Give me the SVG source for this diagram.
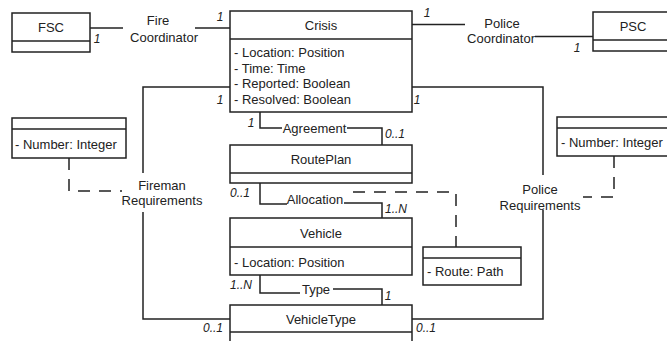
<svg xmlns="http://www.w3.org/2000/svg" width="667" height="341" viewBox="0 0 667 341">
<style>
.box{fill:#fff;stroke:#222;stroke-width:1.5}
.ln{fill:none;stroke:#222;stroke-width:1.5}
.dash{fill:none;stroke:#222;stroke-width:1.5;stroke-dasharray:12,9}
text{font-family:"Liberation Sans",Arial,sans-serif;font-size:13px;fill:#222}
.t{text-anchor:middle}
.m{font-size:12px;font-style:italic}
.mc{font-size:12px;font-style:italic;text-anchor:middle}
.me{font-size:12px;font-style:italic;text-anchor:end}
</style>
<rect width="667" height="341" fill="#fff"/>
<g id="connectors">
<polyline class="ln" points="90,28 123,28"/>
<polyline class="ln" points="195,28 230,28"/>
<polyline class="ln" points="412,24.5 465,24.5"/>
<polyline class="ln" points="535,36.5 593,36.5"/>
<polyline class="ln" points="230,87 143,87 143,173"/>
<polyline class="ln" points="143,212 143,319 230,319"/>
<polyline class="ln" points="412,87 543,87 543,175"/>
<polyline class="ln" points="543,210 543,319 412,319"/>
<polyline class="ln" points="260,112 260,128 282,128"/>
<polyline class="ln" points="347,128 382,128 382,145"/>
<polyline class="ln" points="260,183 260,204 287,204"/>
<polyline class="ln" points="344,203 382,203 382,218"/>
<polyline class="ln" points="260,275 260,293 300,293"/>
<polyline class="ln" points="333,289 382,289 382,305"/>
<path class="dash" d="M69,158 V191 H122"/>
<path class="dash" d="M614,156 V197 H583"/>
<path class="dash" d="M353,192 H456 V247"/>
<text class="t" x="158" y="24.5">Fire</text>
<text class="t" x="164" y="41.5">Coordinator</text>
<text class="t" x="502" y="27.5">Police</text>
<text class="t" x="501" y="42.5">Coordinator</text>
<text class="t" x="162" y="189.5">Fireman</text>
<text class="t" x="162" y="204.5">Requirements</text>
<text class="t" x="540" y="193.5">Police</text>
<text class="t" x="540" y="209.5">Requirements</text>
<text class="t" x="314.5" y="132.5">Agreement</text>
<text class="t" x="315" y="203.5">Allocation</text>
<text class="t" x="316" y="293.5">Type</text>
<text class="mc" x="97" y="43">1</text>
<text class="mc" x="220" y="21">1</text>
<text class="mc" x="427" y="17">1</text>
<text class="mc" x="577" y="52">1</text>
<text class="mc" x="220" y="104">1</text>
<text class="mc" x="417" y="104">1</text>
<text class="mc" x="251" y="127">1</text>
<text class="m" x="385" y="138">0..1</text>
<text class="m" x="230" y="197">0..1</text>
<text class="m" x="385" y="213">1..N</text>
<text class="m" x="230" y="289">1..N</text>
<text class="mc" x="388" y="300">1</text>
<text class="me" x="223" y="332">0..1</text>
<text class="m" x="416" y="332">0..1</text>
</g>
<g id="fsc">
<rect class="box" x="12" y="13" width="78" height="39"/>
<line class="ln" x1="12" y1="41" x2="90" y2="41"/>
<text class="t" x="51" y="31.5">FSC</text>
</g>
<g id="psc">
<rect class="box" x="593" y="12" width="80" height="39"/>
<line class="ln" x1="593" y1="40" x2="673" y2="40"/>
<text class="t" x="633" y="30.5">PSC</text>
</g>
<g id="crisis">
<rect class="box" x="230" y="11" width="182" height="101"/>
<line class="ln" x1="230" y1="39" x2="412" y2="39"/>
<text class="t" x="321" y="30">Crisis</text>
<text x="234" y="57">- Location: Position</text>
<text x="234" y="72.5">- Time: Time</text>
<text x="234" y="88">- Reported: Boolean</text>
<text x="234" y="103.5">- Resolved: Boolean</text>
</g>
<g id="fireman-req">
<rect class="box" x="12" y="118" width="114" height="40"/>
<line class="ln" x1="12" y1="129" x2="126" y2="129"/>
<text x="15" y="148.5">- Number: Integer</text>
</g>
<g id="police-req">
<rect class="box" x="557" y="117" width="115" height="39"/>
<line class="ln" x1="557" y1="128" x2="672" y2="128"/>
<text x="561" y="146.5">- Number: Integer</text>
</g>
<g id="routeplan">
<rect class="box" x="230" y="145" width="182" height="38"/>
<line class="ln" x1="230" y1="173" x2="412" y2="173"/>
<text class="t" x="321" y="163.5">RoutePlan</text>
</g>
<g id="vehicle">
<rect class="box" x="230" y="218" width="182" height="57"/>
<line class="ln" x1="230" y1="247" x2="412" y2="247"/>
<text class="t" x="321" y="237.5">Vehicle</text>
<text x="234" y="266.5">- Location: Position</text>
</g>
<g id="allocation">
<rect class="box" x="423" y="247" width="98" height="38"/>
<line class="ln" x1="423" y1="258" x2="521" y2="258"/>
<text x="427" y="275.5">- Route: Path</text>
</g>
<g id="vehicletype">
<rect class="box" x="230" y="305" width="182" height="50"/>
<line class="ln" x1="230" y1="332" x2="412" y2="332"/>
<text class="t" x="321" y="323.5">VehicleType</text>
</g>
</svg>
